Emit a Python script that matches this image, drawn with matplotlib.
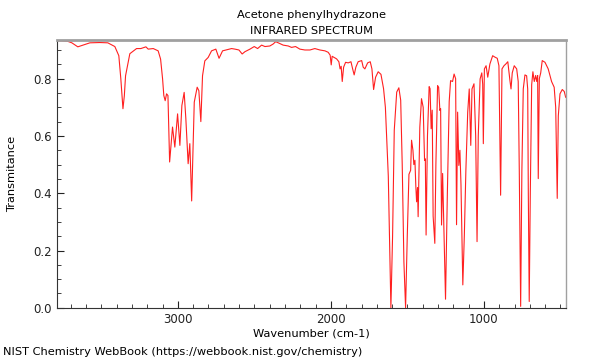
# IR spectrum of acetone phenylhydrazone, NIST WebBook style
import matplotlib
matplotlib.use("Agg")
from matplotlib import pyplot as plt
from matplotlib.ticker import MultipleLocator

title = "Acetone phenylhydrazone\nINFRARED SPECTRUM"
x_label = "Wavenumber (cm-1)"
y_label = "Transmitance"
source = "NIST Chemistry WebBook (https://webbook.nist.gov/chemistry)"

# wavenumber (cm-1)
wavenumber = [
    3791, 3758, 3719, 3693, 3654, 3614, 3575, 3510, 3458, 3412, 3386, 3373,
    3359, 3350, 3342, 3314, 3270, 3242, 3209, 3194, 3161, 3129, 3113, 3100,
    3092, 3083, 3074, 3065, 3054, 3035, 3020, 3002, 2987, 2974, 2959, 2948,
    2933, 2922, 2910, 2893, 2874, 2863, 2850, 2839, 2824, 2802, 2780, 2752,
    2731, 2708, 2649, 2627, 2601, 2580, 2562, 2529, 2501, 2479, 2453, 2431,
    2399, 2377, 2361, 2344, 2312, 2279, 2257, 2231, 2203, 2170, 2137, 2105,
    2072, 2039, 2018, 2005, 1998, 1992, 1963, 1948, 1940, 1933, 1926, 1917,
    1904, 1887, 1869, 1858, 1848, 1837, 1822, 1799, 1789, 1778, 1760, 1743,
    1732, 1721, 1708, 1691, 1673, 1656, 1644, 1636, 1625, 1614, 1608, 1597,
    1586, 1570, 1556, 1544, 1534, 1523, 1512, 1501, 1490, 1479, 1473, 1464,
    1458, 1451, 1445, 1440, 1434, 1430, 1419, 1408, 1397, 1388, 1383, 1378,
    1369, 1358, 1352, 1345, 1338, 1332, 1321, 1314, 1303, 1296, 1288, 1283,
    1277, 1270, 1257, 1251, 1239, 1227, 1218, 1205, 1195, 1185, 1179, 1172,
    1164, 1157, 1150, 1138, 1128, 1118, 1106, 1096, 1086, 1078, 1065, 1054,
    1045, 1037, 1025, 1014, 1008, 1004, 997, 986, 975, 961, 943, 928,
    913, 902, 891, 882, 869, 857, 844, 830, 823, 815, 802, 786,
    776, 769, 760, 752, 743, 732, 721, 714, 710, 704, 697, 688,
    680, 671, 662, 655, 649, 645, 638, 629, 619, 601, 580, 558,
    541, 531, 521, 514, 503, 488, 475, 466,
]
transmittance = [
    0.932, 0.932, 0.930, 0.925, 0.911, 0.918, 0.925, 0.926, 0.925, 0.912, 0.880, 0.800,
    0.695, 0.740, 0.810, 0.887, 0.905, 0.905, 0.911, 0.903, 0.905, 0.897, 0.868, 0.799,
    0.741, 0.723, 0.747, 0.741, 0.509, 0.631, 0.561, 0.677, 0.567, 0.706, 0.752, 0.660,
    0.503, 0.573, 0.373, 0.718, 0.770, 0.758, 0.650, 0.810, 0.862, 0.874, 0.897, 0.903,
    0.871, 0.897, 0.905, 0.903, 0.900, 0.886, 0.894, 0.903, 0.912, 0.905, 0.917, 0.912,
    0.914, 0.921, 0.929, 0.925, 0.917, 0.914, 0.909, 0.912, 0.903, 0.900, 0.900, 0.905,
    0.900, 0.897, 0.892, 0.882, 0.848, 0.878, 0.869, 0.859, 0.834, 0.843, 0.790, 0.840,
    0.857, 0.855, 0.859, 0.834, 0.813, 0.840, 0.859, 0.863, 0.840, 0.834, 0.855, 0.859,
    0.834, 0.762, 0.805, 0.824, 0.815, 0.765, 0.700, 0.600, 0.460, 0.160, 0.000, 0.250,
    0.620, 0.753, 0.768, 0.725, 0.500, 0.160, 0.000, 0.250, 0.466, 0.480, 0.585, 0.550,
    0.500, 0.515, 0.423, 0.370, 0.420, 0.318, 0.630, 0.730, 0.700, 0.515, 0.520, 0.254,
    0.600, 0.772, 0.765, 0.625, 0.690, 0.320, 0.225, 0.500, 0.776, 0.770, 0.689, 0.695,
    0.289, 0.469, 0.160, 0.030, 0.400, 0.720, 0.793, 0.790, 0.816, 0.800, 0.290, 0.683,
    0.497, 0.550, 0.430, 0.080, 0.254, 0.480, 0.683, 0.764, 0.567, 0.764, 0.782, 0.600,
    0.231, 0.600, 0.799, 0.820, 0.780, 0.573, 0.834, 0.845, 0.805, 0.851, 0.880, 0.875,
    0.871, 0.845, 0.393, 0.834, 0.845, 0.851, 0.859, 0.793, 0.764, 0.820, 0.845, 0.834,
    0.790, 0.480, 0.005, 0.480, 0.764, 0.813, 0.810, 0.764, 0.400, 0.022, 0.400, 0.779,
    0.824, 0.790, 0.811, 0.790, 0.811, 0.451, 0.800, 0.820, 0.863, 0.857, 0.834, 0.790,
    0.770, 0.700, 0.382, 0.670, 0.747, 0.762, 0.755, 0.735,
]

fig = plt.figure(figsize=(6, 3.6), dpi=100)
ax = fig.add_axes([0.095, 0.145, 0.848, 0.744])

ax.plot(wavenumber, transmittance, color="#ff2020", lw=0.8)

ax.set_xlim(3790, 465)
ax.set_ylim(0, 0.935)
ax.xaxis.set_major_locator(MultipleLocator(1000))
ax.xaxis.set_minor_locator(MultipleLocator(100))
ax.yaxis.set_major_locator(MultipleLocator(0.2))
ax.yaxis.set_minor_locator(MultipleLocator(0.05))
ax.tick_params(which="both", direction="in", labelsize=8.5, colors="#222222")
ax.tick_params(which="major", length=5)
ax.tick_params(which="minor", length=3)

for side in ("top", "right"):
    ax.spines[side].set_color("#a0a0a0")
ax.spines["top"].set_linewidth(2)
ax.spines["right"].set_linewidth(1)
ax.spines["left"].set_color("#333333")
ax.spines["bottom"].set_color("#333333")

ax.set_title(title, fontsize=8.2, pad=4, linespacing=1.75)
ax.set_xlabel(x_label, fontsize=8.2, labelpad=2)
ax.set_ylabel(y_label, fontsize=8.2)
ax.yaxis.set_label_coords(-0.078, 0.5)
fig.text(0.005, 0.022, source, fontsize=8.2, va="center", ha="left")

fig.savefig("out.png", dpi=100)
